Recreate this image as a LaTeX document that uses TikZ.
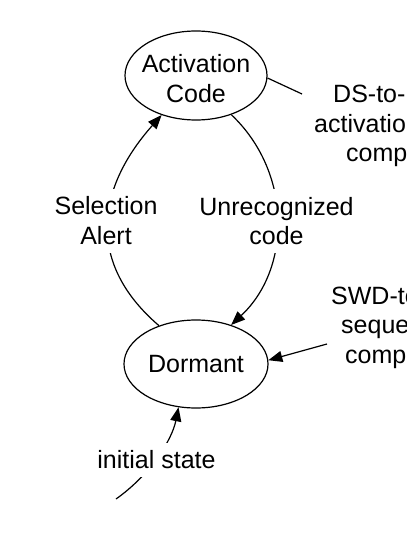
\documentclass[tikz,border=0pt]{standalone}
\usepackage{fontspec}
\setmainfont{Liberation Sans}
\usetikzlibrary{arrows.meta,shapes.geometric}
\tikzset{
  statebox/.style={draw, ellipse, line width=1.2pt, inner sep=0pt},
  arr/.style={line width=1.2pt, -{Triangle[length=14pt,width=11pt]}},
  plain/.style={line width=1.2pt},
  lbl/.style={fill=white, align=center, inner xsep=3pt, inner ysep=8pt},
  txt/.style={align=center, inner sep=0pt},
}
\begin{document}
\begin{tikzpicture}[x=1pt, y=-1pt, font=\fontsize{25}{29.5}\selectfont]
\useasboundingbox (0,0) rectangle (406,534);
\clip (0,0) rectangle (406,534);
\node[statebox, minimum width=142pt, minimum height=89pt] (act) at (196,75.5) {};
\node[txt] (acttext) at (196,78.5) {Activation\\Code};
\node[statebox, minimum width=144pt, minimum height=88pt] (dorm) at (196,364) {};
\node[txt] (dormtext) at (196,364) {Dormant};
\coordinate (dsend) at (302,94);
\coordinate (swdend) at (327,344);
\coordinate (init) at (116,499);
\draw[arr] (dorm.134) .. controls (87,264) and (95,190) .. (act.229);
\draw[arr] (act.312) .. controls (292,172) and (292,268) .. (dorm.48);
\draw[plain] (act.358) -- (dsend);
\draw[arr] (swdend) -- (dorm.3);
\draw[arr] (init) .. controls (150,475) and (172,440) .. (dorm.248);
\node[lbl] (sel) at (106,220.8) {Selection\\Alert};
\node[lbl] (unrec) at (276.5,221) {Unrecognized\\code};
\node[lbl] (initlbl) at (156.5,460) {initial state};
\node[anchor=base west, inner sep=0pt, align=left] (dslbl) at (314,162)
  {\hspace*{19pt}DS-to-\\activation\\\hspace*{32pt}comparison};
\node[anchor=base west, inner sep=0pt, align=left] (swdlbl) at (331,363)
  {SWD-to-\\\hspace*{10pt}sequence\\\hspace*{14pt}comparison};
\end{tikzpicture}
\end{document}
